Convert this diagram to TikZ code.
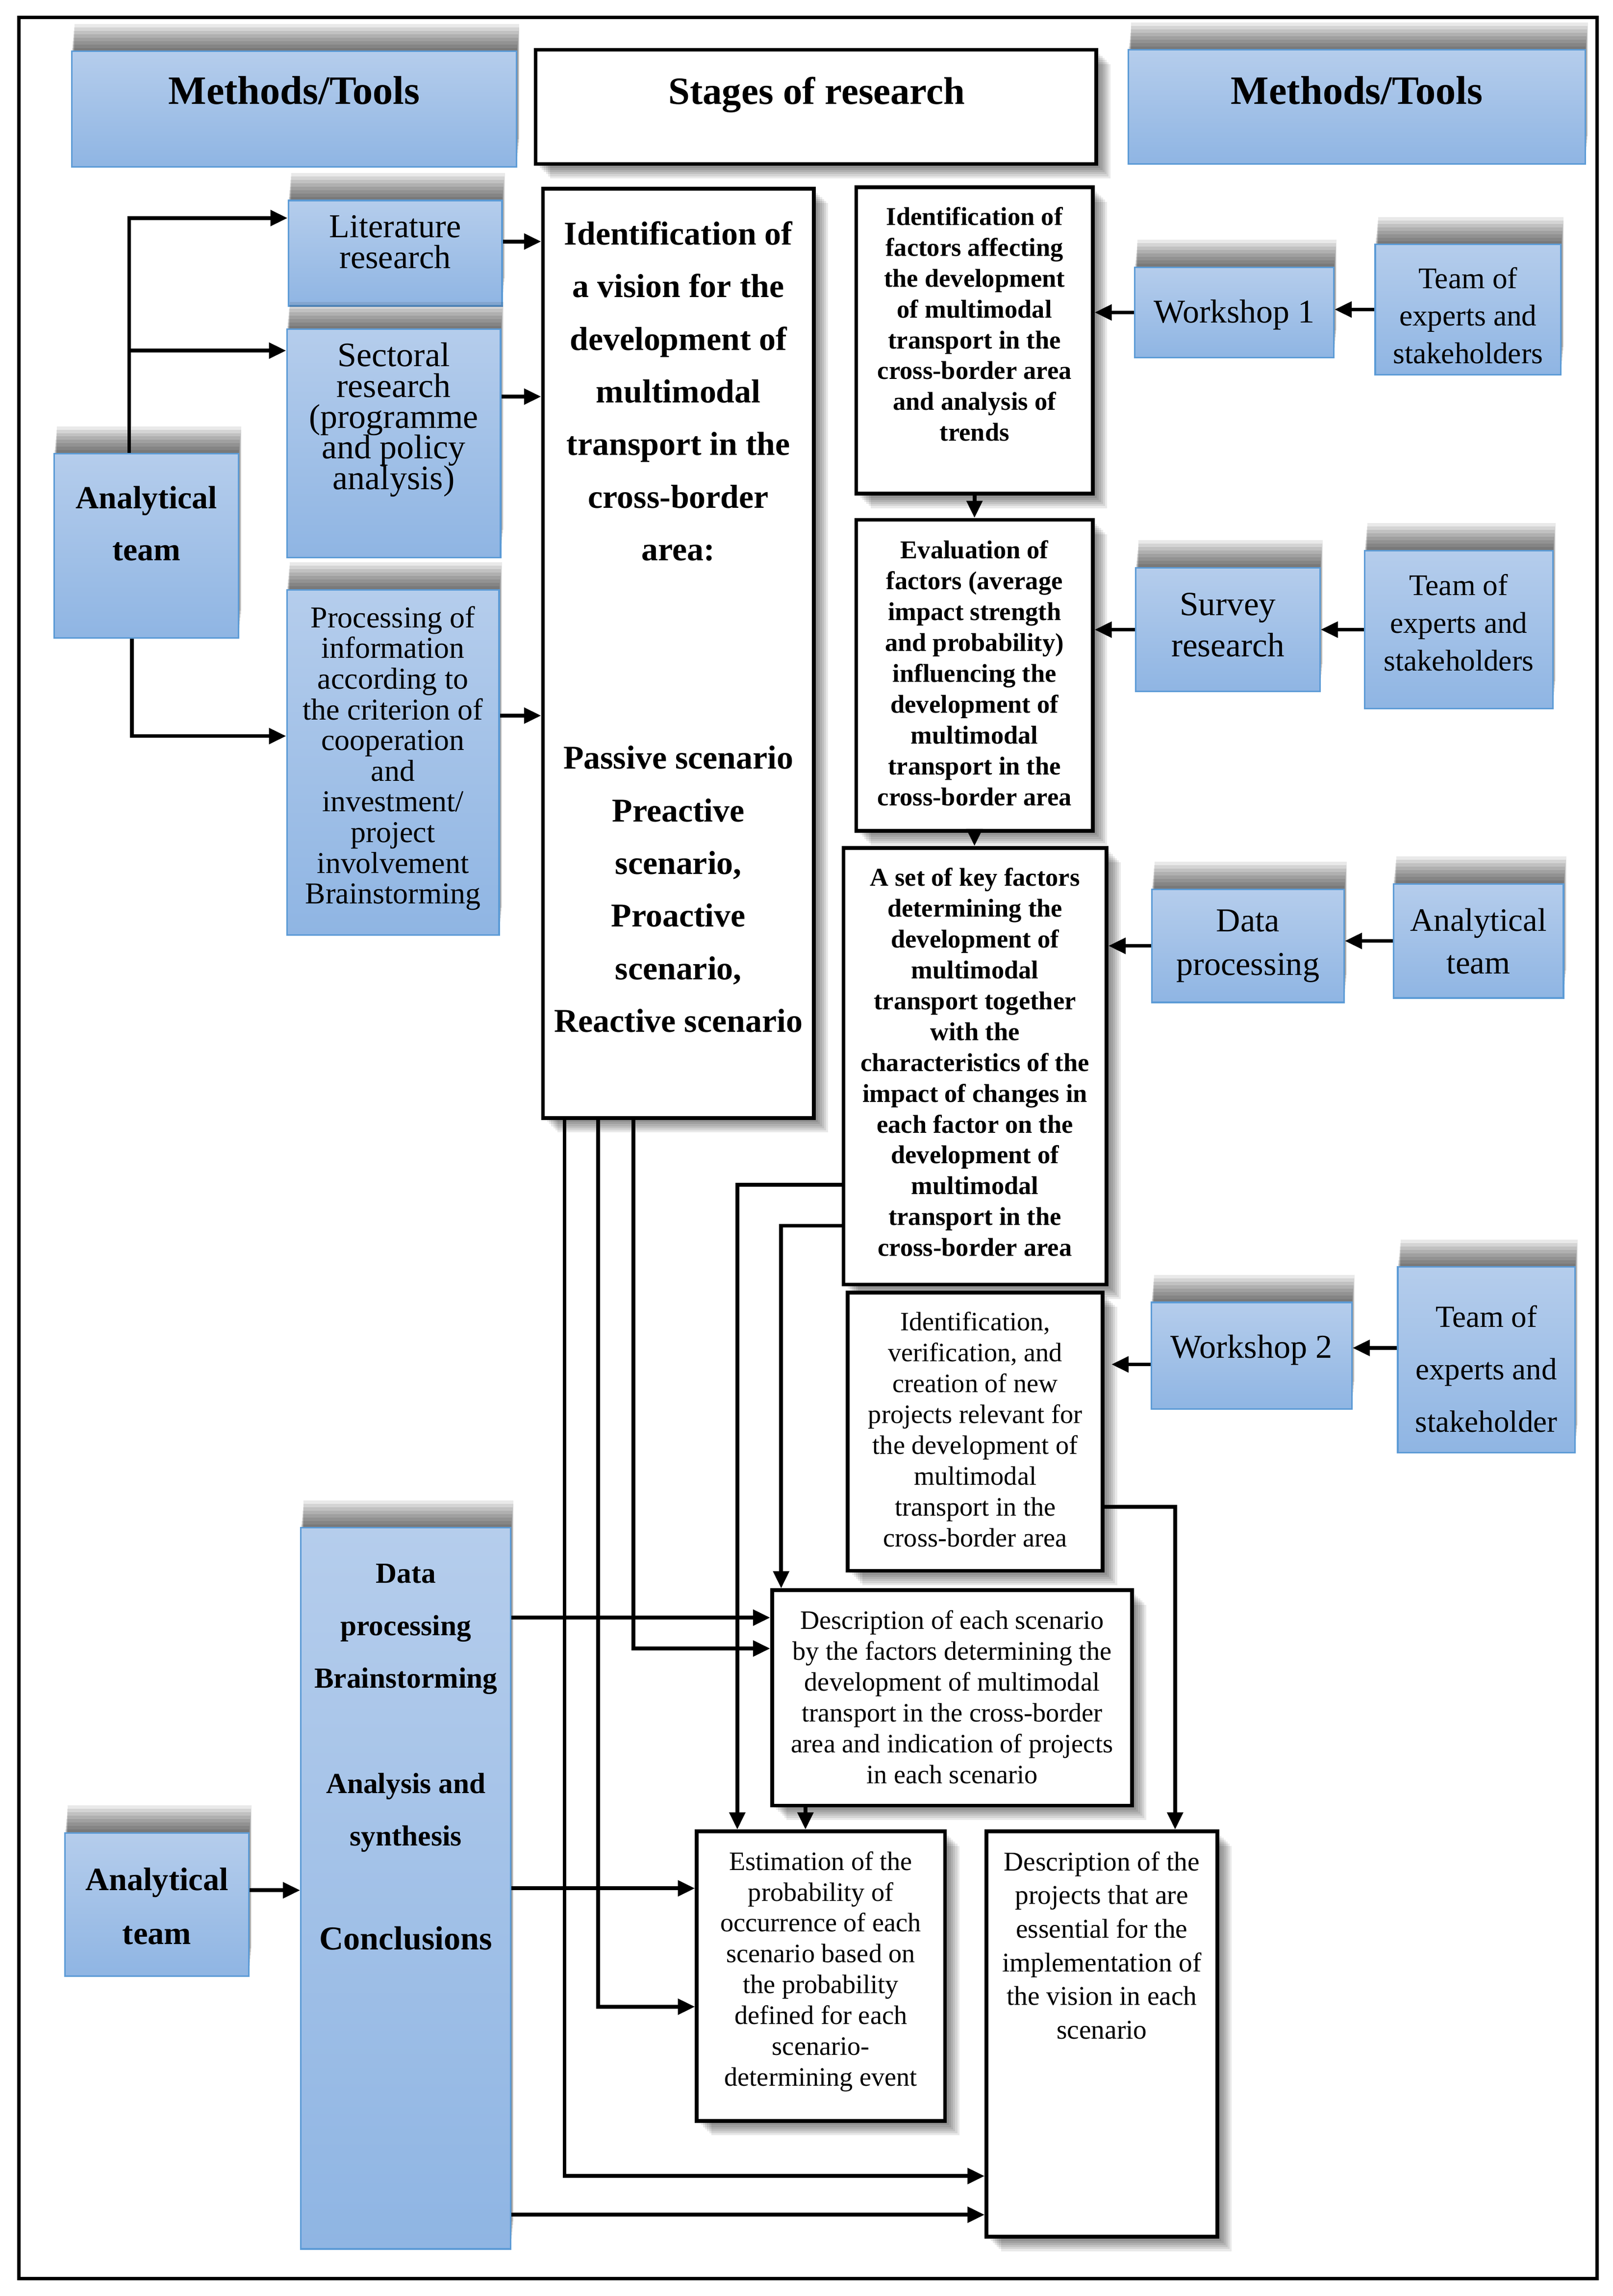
\documentclass[tikz,border=0pt]{standalone}
\usepackage{fontspec}
\setmainfont{Liberation Serif}
\usetikzlibrary{arrows.meta,shadows,fit}
\lineskiplimit=-100pt
\definecolor{bTop}{RGB}{181,205,236}
\definecolor{bBot}{RGB}{143,181,227}
\definecolor{bEdge}{RGB}{92,155,214}
\tikzset{
  sh/.style 2 args={general shadow={draw=none,fill=black,opacity=.085,shadow xshift=#1,shadow yshift=#2}},
  bshadow/.style={sh={1.6pt}{16pt},sh={1.4pt}{14pt},sh={1.2pt}{12pt},sh={1pt}{10pt},sh={.8pt}{8pt},sh={.6pt}{6pt},sh={.4pt}{4pt},sh={.2pt}{2pt}},
  wshadow/.style={sh={8.4pt}{-8.4pt},sh={7.2pt}{-7.2pt},sh={6pt}{-6pt},sh={4.8pt}{-4.8pt},sh={3.6pt}{-3.6pt},sh={2.4pt}{-2.4pt},sh={1.2pt}{-1.2pt}},
  bbox/.style={bshadow, rectangle, draw=bEdge, line width=0.9pt, top color=bTop, bottom color=bBot, inner sep=0pt},
  wbox/.style={wshadow, rectangle, draw=black, line width=2.2pt, fill=white, inner sep=0pt},
  txt/.style={inner sep=0pt, align=center, anchor=north},
  ctxt/.style={inner sep=0pt, align=center, anchor=center},
  arr/.style={line width=2.2pt, -{Triangle[length=10pt,width=9pt]}},
  fb15/.style={font=\bfseries\fontsize{15}{18}\selectfont},
  fr155/.style={font=\fontsize{15.5}{18}\selectfont},
}
\begin{document}
\begin{tikzpicture}[x=0.3mm,y=-0.3mm]
\fill[white] (0,0) rectangle (1102,1569);
\useasboundingbox (0,0) rectangle (1102,1569);
\node[fit={(13,12)(1091,1557)}, draw, line width=2pt, inner sep=0pt] (frame) {};
% headers
\node[bbox, fit={(49,35)(353,114)}] (mtL) {};
\node[txt, font=\bfseries\fontsize{23.5}{27}\selectfont] (mtLt) at (201,52) {Methods/Tools};
\node[wbox, fit={(366,34)(749,112)}] (stg) {};
\node[txt, font=\bfseries\fontsize{22.5}{26}\selectfont] (stgt) at (558,52.5) {Stages of research};
\node[bbox, fit={(771,34)(1083,112)}] (mtR) {};
\node[txt, font=\bfseries\fontsize{23.5}{27}\selectfont] (mtRt) at (927,52) {Methods/Tools};
% left column
\node[bbox, fit={(197,137)(343,209)}] (lit) {};
\node[txt, font=\fontsize{19.5}{17.9}\selectfont] (litt) at (270,147) {Literature\\research};
\node[bbox, fit={(196,225)(342,381)}] (sec) {};
\node[txt, font=\fontsize{20}{17.9}\selectfont] (sect) at (269,234) {Sectoral\\research\\(programme\\and policy\\analysis)};
\node[bbox, fit={(196,403)(341,639)}] (proc) {};
\node[txt, font=\fontsize{17.7}{17.9}\selectfont] (proct) at (268.5,414) {Processing of\\information\\according to\\the criterion of\\cooperation\\and\\investment/\\project\\involvement\\Brainstorming};
\node[bbox, fit={(37,310)(163,436)}] (at1) {};
\node[txt, font=\bfseries\fontsize{18.8}{30.4}\selectfont] (at1t) at (100,332) {Analytical\\team};
% vision
\node[wbox, fit={(371,129)(556,764)}] (vis) {};
\node[txt, font=\bfseries\fontsize{19.4}{30.7}\selectfont] (vist) at (463.5,151) {Identification of\\a vision for the\\development of\\multimodal\\transport in the\\cross-border\\area:};
\node[txt, font=\bfseries\fontsize{19.4}{30.7}\selectfont] (viss) at (463.5,509.5) {Passive scenario\\Preactive\\scenario,\\Proactive\\scenario,\\Reactive scenario};
% middle column
\node[wbox, fit={(585,128)(746.6,337.4)}] (b1) {};
\node[txt, fb15] (b1t) at (665.8,141.2) {Identification of\\factors affecting\\the development\\of multimodal\\transport in the\\cross-border area\\and analysis of\\trends};
\node[wbox, fit={(585,355.2)(746.6,567.7)}] (b2) {};
\node[txt, fb15] (b2t) at (665.8,369.1) {Evaluation of\\factors (average\\impact strength\\and probability)\\influencing the\\development of\\multimodal\\transport in the\\cross-border area};
\node[wbox, fit={(576.3,579.4)(756,877.8)}] (b3) {};
\node[txt, fb15] (b3t) at (666.1,592.8) {A set of key factors\\determining the\\development of\\multimodal\\transport together\\with the\\characteristics of the\\impact of changes in\\each factor on the\\development of\\multimodal\\transport in the\\cross-border area};
\node[wbox, fit={(579.2,883.3)(753.4,1073.4)}] (b4) {};
\node[txt, fr155] (b4t) at (666.3,896.2) {Identification,\\verification, and\\creation of new\\projects relevant for\\the development of\\multimodal\\transport in the\\cross-border area};
\node[wbox, fit={(527.5,1086.7)(773.4,1233.8)}] (b5) {};
\node[txt, fr155] (b5t) at (650.5,1100.4) {Description of each scenario\\by the factors determining the\\development of multimodal\\transport in the cross-border\\area and indication of projects\\in each scenario};
\node[wbox, fit={(476.1,1251.5)(645.6,1449.4)}] (b6) {};
\node[txt, fr155] (b6t) at (560.8,1264.9) {Estimation of the\\probability of\\occurrence of each\\scenario based on\\the probability\\defined for each\\scenario-\\determining event};
\node[wbox, fit={(674,1251.5)(831.7,1528.5)}] (b7) {};
\node[txt, font=\fontsize{15.8}{19.6}\selectfont] (b7t) at (752.8,1265.1) {Description of the\\projects that are\\essential for the\\implementation of\\the vision in each\\scenario};
% right column
\node[bbox, fit={(775.3,182.6)(911.3,244.4)}] (ws1) {};
\node[ctxt, font=\fontsize{19.4}{23}\selectfont] (ws1t) at (843.3,215) {Workshop 1};
\node[bbox, fit={(939.6,167)(1066.5,256)}] (tm1) {};
\node[ctxt, font=\fontsize{17.5}{21.9}\selectfont] (tm1t) at (1003,215.5) {Team of\\experts and\\stakeholders};
\node[bbox, fit={(776,388)(901.8,472.6)}] (sur) {};
\node[ctxt, font=\fontsize{19.8}{23.9}\selectfont] (surt) at (838.9,427) {Survey\\research};
\node[bbox, fit={(932.3,376.3)(1060.9,484.2)}] (tm2) {};
\node[ctxt, font=\fontsize{17.5}{21.9}\selectfont] (tm2t) at (996.6,425.5) {Team of\\experts and\\stakeholders};
\node[bbox, fit={(786.9,607.7)(918.3,685)}] (dp) {};
\node[ctxt, font=\fontsize{19.5}{25.4}\selectfont] (dpt) at (852.6,646.5) {Data\\processing};
\node[bbox, fit={(952,604)(1068.2,682)}] (atR) {};
\node[ctxt, font=\fontsize{19.1}{24.8}\selectfont] (atRt) at (1010.1,643.3) {Analytical\\team};
\node[bbox, fit={(786.6,890)(923.6,963)}] (ws2) {};
\node[ctxt, font=\fontsize{19.5}{23}\selectfont] (ws2t) at (855.1,922.5) {Workshop 2};
\node[bbox, fit={(955,865.8)(1076,992.8)}] (tm3) {};
\node[ctxt, font=\fontsize{18}{30.6}\selectfont] (tm3t) at (1015.5,935.3) {Team of\\experts and\\stakeholder};
% bottom left
\node[bbox, fit={(205.6,1044)(349,1536.8)}] (col) {};
\node[txt, font=\bfseries\fontsize{17}{30.7}\selectfont] (colt) at (277.3,1068.4) {Data\\processing\\Brainstorming\\[30.5pt]Analysis and\\synthesis};
\node[txt, font=\bfseries\fontsize{19.5}{24}\selectfont] (colc) at (277.3,1316.3) {Conclusions};
\node[bbox, fit={(44.4,1252.5)(170,1350.4)}] (at2) {};
\node[ctxt, font=\bfseries\fontsize{19}{31.4}\selectfont] (at2t) at (107.2,1302.5) {Analytical\\team};
% connectors left
\coordinate (j1) at (88.3,149);
\coordinate (j2) at (88.3,239.6);
\coordinate (j3) at (90,503);
\draw[arr] ([xshift=-10pt]at1.north) |- (lit.west |- j1);
\draw[arr] (j2) -- (sec.west |- j2);
\draw[arr] ([xshift=-8.5pt]at1.south) |- (proc.west |- j3);
\draw[arr] ([yshift=6.8pt]lit.east) -- ([yshift=6.8pt]lit.east -| vis.west);
\draw[arr] ([yshift=27.3pt]sec.east) -- ([yshift=27.3pt]sec.east -| vis.west);
\draw[arr] ([yshift=27.3pt]proc.east) -- ([yshift=27.3pt]proc.east -| vis.west);
% connectors right
\draw[arr] (tm1.west) -- (tm1.west -| ws1.east);
\draw[arr] (ws1.west) -- (ws1.west -| b1.east);
\draw[arr] (tm2.west) -- (tm2.west -| sur.east);
\draw[arr] (sur.west) -- (sur.west -| b2.east);
\draw[arr] (atR.west) -- (atR.west -| dp.east);
\draw[arr] (dp.west) -- (dp.west -| b3.east);
\draw[arr] ([yshift=7pt]tm3.west) -- ([yshift=7pt]tm3.west -| ws2.east);
\draw[arr, shorten >=4pt] ([yshift=-5pt]ws2.west) -- ([yshift=-5pt]ws2.west -| b4.east);
% middle verticals
\draw[arr] (b1.south) -- (b1.south |- b2.north);
\draw[arr] (b2.south) -- (b2.south |- b3.north);
\draw[arr] ([xshift=-9pt]b6.north |- b5.south) -- ([xshift=-9pt]b6.north);
% from vision box
\draw[arr] ([xshift=53.8pt]vis.south west) |- ([yshift=28.8pt]b5.west);
\draw[arr] ([xshift=33.3pt]vis.south west) |- ([yshift=-17.8pt]b6.west);
\draw[arr] ([xshift=13.7pt]vis.south west) |- ([yshift=-82.8pt]b7.west);
% from b3 and b4
\draw[arr] ([yshift=-69.2pt]b3.west) -| ([xshift=24.7pt]b6.north west);
\draw[arr] ([yshift=-93pt]b3.west) -| ([xshift=6.4pt]b5.north west);
\draw[arr] ([yshift=-43.9pt]b4.east) -| ([xshift=42.7pt]b7.north);
% from column
\draw[arr] ([yshift=157.9pt]col.east) -- ([yshift=157.9pt]col.east -| b5.west);
\draw[arr] (col.east) -- (col.east -| b6.west);
\draw[arr] ([yshift=-190.4pt]col.east) -- ([yshift=-190.4pt]col.east -| b7.west);
\draw[arr] ([yshift=8.3pt]at2.east) -- ([yshift=8.3pt]at2.east -| col.west);
\end{tikzpicture}
\end{document}
